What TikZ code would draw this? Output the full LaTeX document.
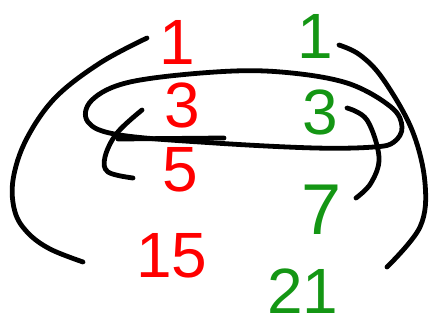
\documentclass[tikz,border=0pt]{standalone}
\usepackage{fontspec}
\setmainfont{Liberation Sans}
\definecolor{hred}{RGB}{255,0,0}
\definecolor{hgreen}{RGB}{20,150,20}
\begin{document}
\begin{tikzpicture}[x=0.75pt,y=-0.75pt,
  stroke/.style={line width=3.6pt,line cap=round,line join=round,black},
  num/.style={font=\fontsize{48}{48}\selectfont,inner sep=0pt,anchor=center},
  rnum/.style={num,text=hred},
  gnum/.style={num,text=hgreen}]
\useasboundingbox (0,0) rectangle (429,325);
% numbers
\node[rnum] (r1) at (177,42) {1};
\node[rnum] (r3) at (182,105) {3};
\node[rnum] (r5) at (180,170) {5};
\node[rnum] (r15) at (172,256) {15};
\node[gnum] (g1) at (315,36) {1};
\node[gnum] (g3) at (320,112) {3};
\node[gnum,font=\fontsize{54}{54}\selectfont] (g7) at (322,210) {7};
\node[gnum] (g21) at (303,291) {21};
% big left arc
\draw[stroke] plot[smooth,tension=0.6] coordinates {(147,38) (100,63) (55,98) (26,140) (13,180) (15,212) (28,233) (50,249) (83,262)};
% big right arc
\draw[stroke] plot[smooth,tension=0.6] coordinates {(339,45) (360,55) (383,79) (412,130) (425,183) (420,227) (387,267)};
% loop
\draw[stroke] plot[smooth cycle,tension=0.6] coordinates {(315,148) (215,143) (120,135) (88,122) (92,100) (130,82) (215,72) (281,72) (347,83) (391,107) (402,127) (394,142) (374,147)};
\draw[stroke] (118,139) -- (224,138);
% small left arc
\draw[stroke] plot[smooth,tension=0.6] coordinates {(142,110) (117,133) (105,157) (108,172) (133,178)};
% small right arc
\draw[stroke] plot[smooth,tension=0.6] coordinates {(347,108) (367,120) (379,157) (371,183) (356,198)};
\end{tikzpicture}
\end{document}
